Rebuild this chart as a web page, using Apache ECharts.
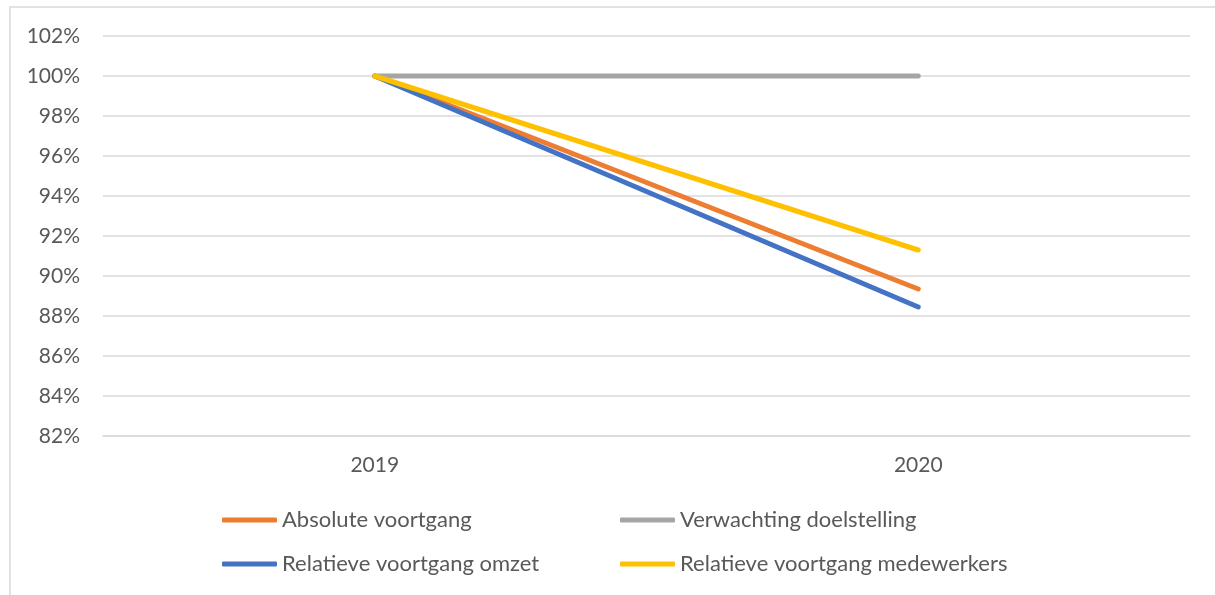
<!DOCTYPE html>
<html><head><meta charset="utf-8">
<script src="https://cdn.jsdelivr.net/npm/echarts@6/dist/echarts.min.js"></script>
<style>html,body{margin:0;padding:0;background:#fff}#c{width:1215px;height:595px}</style>
</head><body><div id="c"></div>
<script>
const categories = ['2019', '2020'];
const absoluteVoortgang = [100, 89.35];
const verwachtingDoelstelling = [100, 100];
const relatieveOmzet = [100, 88.45];
const relatieveMedewerkers = [100, 91.3];
const seriesNames = ['Absolute voortgang', 'Verwachting doelstelling', 'Relatieve voortgang omzet', 'Relatieve voortgang medewerkers'];

const FONT = 'Lato';
const TXT = '#595959';
const chart = echarts.init(document.getElementById('c'));
function line(name, data, color) {
  return { name, type: 'line', data, showSymbol: false, symbol: 'none',
    lineStyle: { color, width: 5, cap: 'round' }, itemStyle: { color }, animation: false };
}
const legendCommon = {
  orient: 'vertical', itemWidth: 55, itemHeight: 5, icon: 'roundRect', itemGap: 22, padding: 0,
  textStyle: { color: TXT, fontFamily: FONT, fontSize: 22, lineHeight: 22 }
};
chart.setOption({
  animation: false,
  textStyle: { fontFamily: FONT },
  graphic: [{ type: 'rect', shape: { x: 10, y: 7, width: 1400, height: 800 },
    style: { fill: 'none', stroke: '#d9d9d9', lineWidth: 1.5 }, silent: true }],
  grid: { left: 103, right: 25, top: 36, bottom: 159, containLabel: false },
  legend: [
    Object.assign({ data: [seriesNames[0], seriesNames[2]], left: 222, top: 509 }, legendCommon),
    Object.assign({ data: [seriesNames[1], seriesNames[3]], left: 620, top: 509 }, legendCommon)
  ],
  xAxis: { type: 'category', data: categories, boundaryGap: true,
    axisLine: { lineStyle: { color: '#d9d9d9', width: 1.5 } }, axisTick: { show: false },
    axisLabel: { color: TXT, fontSize: 21, margin: 19, fontFamily: FONT } },
  yAxis: { type: 'value', min: 82, max: 102, interval: 2,
    axisLine: { show: false }, axisTick: { show: false },
    splitLine: { lineStyle: { color: '#d9d9d9', width: 1.5 } },
    axisLabel: { color: TXT, fontSize: 21, margin: 23, fontFamily: FONT, formatter: v => v + '%' } },
  series: [
    line(seriesNames[0], absoluteVoortgang, '#ED7D31'),
    line(seriesNames[1], verwachtingDoelstelling, '#A5A5A5'),
    line(seriesNames[2], relatieveOmzet, '#4472C4'),
    line(seriesNames[3], relatieveMedewerkers, '#FFC000')
  ]
});
</script></body></html>
